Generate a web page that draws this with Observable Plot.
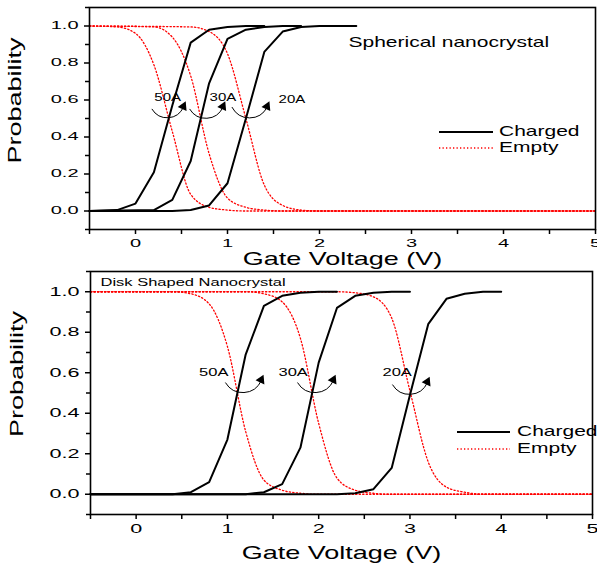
<!DOCTYPE html>
<html><head><meta charset="utf-8">
<script src="https://cdn.jsdelivr.net/npm/d3@7"></script>
<script src="https://cdn.jsdelivr.net/npm/@observablehq/plot@0.6"></script>
<style>
html,body{margin:0;padding:0;background:#fff;width:597px;height:569px;overflow:hidden;}
#top{position:absolute;left:0;top:0;}
#bot{position:absolute;left:0;top:269px;}
svg text{fill:#000;}
</style></head><body>
<div id="top"></div><div id="bot"></div>
<script>
// ---------- Spherical nanocrystal (top) ----------
const sphCharged50V = [-0.5,-0.2,0,0.2,0.4,0.6,0.8,1.0,1.2,1.4];
const sphCharged50P = [0,0.005,0.04,0.21,0.57,0.91,0.98,0.995,1,1];
const sphCharged30V = [-0.5,0.2,0.4,0.6,0.8,1.0,1.2,1.4,1.6,1.8];
const sphCharged30P = [0,0.005,0.06,0.27,0.69,0.93,0.98,0.995,1,1];
const sphCharged20V = [-0.5,0.4,0.6,0.8,1.0,1.2,1.4,1.6,1.8,2.0,2.2,2.4];
const sphCharged20P = [0,0,0.005,0.03,0.15,0.5,0.86,0.97,0.995,1,1,1];
const sphEmpty50V = [-0.5,-0.2,0,0.2,0.4,0.6,0.8,1.0,1.2,5];
const sphEmpty50P = [1,0.995,0.96,0.79,0.43,0.09,0.02,0.005,0,0];
const sphEmpty30V = [-0.5,0.2,0.4,0.6,0.8,1.0,1.2,1.4,1.6,5];
const sphEmpty30P = [1,0.995,0.94,0.73,0.31,0.07,0.02,0.005,0,0];
const sphEmpty20V = [-0.5,0.6,0.8,1.0,1.2,1.4,1.6,1.8,2.0,5];
const sphEmpty20P = [1,0.995,0.97,0.85,0.5,0.14,0.03,0.005,0,0];

// ---------- Disk shaped nanocrystal (bottom) ----------
const diskCharged50V = [-0.5,0.4,0.6,0.8,1.0,1.2,1.4,1.6,1.8,2.0,2.2];
const diskCharged50P = [0,0,0.01,0.06,0.27,0.69,0.93,0.98,0.995,1,1];
const diskCharged30V = [-0.5,1.2,1.4,1.6,1.8,2.0,2.2,2.4,2.6,2.8,3.0];
const diskCharged30P = [0,0,0.01,0.05,0.23,0.65,0.92,0.98,0.995,1,1];
const diskCharged20V = [-0.5,2.2,2.4,2.6,2.8,3.0,3.2,3.4,3.6,3.8,4.0];
const diskCharged20P = [0,0,0.005,0.025,0.13,0.49,0.84,0.965,0.99,1,1];
const diskEmpty50V = [-0.5,0.4,0.6,0.8,1.0,1.2,1.4,1.6,1.8,2.0,5];
const diskEmpty50P = [1,1,0.99,0.94,0.73,0.31,0.07,0.02,0.005,0,0];
const diskEmpty30V = [-0.5,1.2,1.4,1.6,1.8,2.0,2.2,2.4,2.6,2.8,5];
const diskEmpty30P = [1,1,0.99,0.95,0.77,0.35,0.08,0.02,0.005,0,0];
const diskEmpty20V = [-0.5,2.2,2.4,2.6,2.8,3.0,3.2,3.4,3.6,3.8,5];
const diskEmpty20P = [1,1,0.995,0.975,0.87,0.51,0.16,0.035,0.01,0,0];

// ---------- size annotations (label position, arrow start/end in data units) ----------
const sizeLabels = ["50A","30A","20A"];
const sphLabelV = [0.35,0.95,1.70];
const sphLabelP = [0.61,0.61,0.60];
const sphArcV1 = [0.18,0.59,1.05], sphArcV2 = [0.52,0.95,1.43];
const sphArcP1 = [0.55,0.55,0.56], sphArcP2 = [0.56,0.56,0.56];
const diskLabelV = [0.85,1.72,2.86];
const diskLabelP = [0.60,0.60,0.60];
const diskArcV1 = [0.98,1.77,2.81], diskArcV2 = [1.37,2.16,3.19];
const diskArcP1 = [0.55,0.55,0.54], diskArcP2 = [0.56,0.56,0.55];

// ---------- axes ----------
const xMajor = [0,1,2,3,4,5];
const xMinor = [-0.5,0.5,1.5,2.5,3.5,4.5];
const yMajor = [0,0.2,0.4,0.6,0.8,1.0];
const yMinor = [-0.1,0.1,0.3,0.5,0.7,0.9,1.1];
const xLabel = "Gate Voltage (V)";
const yLabel = "Probability";
const seriesNames = ["Charged","Empty"];

function rows(V,P,size){ return V.map((v,i)=>({v, p:P[i], size})); }

function panel(cfg){
  const charged = [].concat(...cfg.charged.map(([V,P],k)=>rows(V,P,sizeLabels[k])));
  const empty = [].concat(...cfg.empty.map(([V,P],k)=>rows(V,P,sizeLabels[k])));
  const labels = sizeLabels.map((t,i)=>({t, v:cfg.labV[i], p:cfg.labP[i]}));
  const arcs = sizeLabels.map((t,i)=>({x1:cfg.a1v[i], y1:cfg.a1p[i], x2:cfg.a2v[i], y2:cfg.a2p[i]}));
  const svg = Plot.plot({
    width: 597, height: cfg.height,
    marginTop: cfg.mt, marginLeft: cfg.ml, marginRight: cfg.mr, marginBottom: cfg.mb,
    x: {domain: [-0.5, 5]},
    y: {domain: [-0.1, 1.1]},
    style: {fontFamily: "'Liberation Sans', Arial, sans-serif", fontSize: cfg.tickFont + "px", background: "white", overflow: "visible", color: "black"},
    marks: [
      Plot.line(empty, {x:"v", y:"p", z:"size", stroke:"#ff0000", strokeWidth:1.3, strokeDasharray:"1.3,2.2", curve:"monotone-x"}),
      Plot.line(charged, {x:"v", y:"p", z:"size", stroke:"black", strokeWidth:2}),
      Plot.arrow(arcs, {x1:"x1", y1:"y1", x2:"x2", y2:"y2", bend: -62, stroke:"black", strokeWidth:1, headLength:0}),
      Plot.dot(arcs, {x:"x2", y:"y2", symbol:"triangle", r:3.6, fill:"black", stroke:null, rotate:25, dy:-1}),
      Plot.text(labels, {x:"v", y:"p", text:"t", fontSize: cfg.labFont}),
      Plot.frame({stroke:"black", strokeWidth:1.6}),
      Plot.axisY(yMajor, {tickSize:5, tickPadding:6, tickFormat: d3.format(".1f"), label:null, strokeWidth:1.5}),
      Plot.axisY(yMinor, {tickSize:4, tickFormat: ()=>"", label:null, strokeWidth:1.5}),
      Plot.axisX(xMajor, {tickSize:5, tickPadding:cfg.xpad, tickFormat: d3.format("d"), label:null, strokeWidth:1.5}),
      Plot.axisX(xMinor, {tickSize:5, tickFormat: ()=>"", label:null, strokeWidth:1.5}),
      Plot.text([xLabel], {frameAnchor:"bottom", dy: cfg.xlabDy, fontSize: 18, textAnchor:"middle", lineAnchor:"middle"}),
      Plot.text([yLabel], {frameAnchor:"left", dx: cfg.ylabDx, dy: cfg.ylabDy, rotate:-90, fontSize: 18, textAnchor:"middle", lineAnchor:"middle"}),
      Plot.text([cfg.title], {frameAnchor:"top-left", dx: cfg.titleDx, dy: cfg.titleDy, fontSize: cfg.titleFont, textAnchor:"start", lineAnchor:"middle"})
    ]
  });
  // legend inside the frame
  const L = d3.select(svg).append("g").attr("aria-label","legend");
  const lg = cfg.legend;
  L.append("line").attr("x1",lg.x1).attr("x2",lg.x2).attr("y1",lg.y1).attr("y2",lg.y1)
    .attr("stroke","black").attr("stroke-width",2);
  L.append("line").attr("x1",lg.x1).attr("x2",lg.x2).attr("y1",lg.y2).attr("y2",lg.y2)
    .attr("stroke","#ff0000").attr("stroke-width",1.3).attr("stroke-dasharray","1.3,2.2");
  [lg.y1, lg.y2].forEach((y,i)=>{
    L.append("text").attr("transform",`translate(${lg.tx},${y})`).attr("dy","0.32em")
      .attr("font-size",14).attr("text-anchor","start").text(seriesNames[i]);
  });
  // horizontally extended lettering, as in the reference
  svg.querySelectorAll("text").forEach(t=>{
    const g = t.parentNode;
    const lab = (g && g.getAttribute && g.getAttribute("aria-label")) || "";
    const s = lab.includes("tick label") ? cfg.tickScale : 1.5;
    t.setAttribute("transform", (t.getAttribute("transform")||"") + ` scale(${s},1)`);
  });
  return svg;
}

document.getElementById("top").appendChild(panel({
  height: 269, mt: 7, ml: 89, mr: 2, mb: 40,
  charged: [[sphCharged50V,sphCharged50P],[sphCharged30V,sphCharged30P],[sphCharged20V,sphCharged20P]],
  empty: [[sphEmpty50V,sphEmpty50P],[sphEmpty30V,sphEmpty30P],[sphEmpty20V,sphEmpty20P]],
  labV: sphLabelV, labP: sphLabelP, a1v: sphArcV1, a1p: sphArcP1, a2v: sphArcV2, a2p: sphArcP2,
  labFont: 10, tickFont: 10, tickScale: 2.0, xpad: 5,
  xlabDy: 30, ylabDx: -74, ylabDy: -18,
  title: "Spherical nanocrystal", titleFont: 14, titleDx: 259, titleDy: 35,
  legend: {x1:439, x2:493, y1:132, y2:148, tx:499}
}));

document.getElementById("bot").appendChild(panel({
  height: 300, mt: 2, ml: 90, mr: 5, mb: 55,
  charged: [[diskCharged50V,diskCharged50P],[diskCharged30V,diskCharged30P],[diskCharged20V,diskCharged20P]],
  empty: [[diskEmpty50V,diskEmpty50P],[diskEmpty30V,diskEmpty30P],[diskEmpty20V,diskEmpty20P]],
  labV: diskLabelV, labP: diskLabelP, a1v: diskArcV1, a1p: diskArcP1, a2v: diskArcV2, a2p: diskArcP2,
  labFont: 11, tickFont: 12, tickScale: 1.8, xpad: 5,
  xlabDy: 39, ylabDx: -73, ylabDy: -19,
  title: "Disk Shaped Nanocrystal", titleFont: 11, titleDx: 10, titleDy: 11,
  legend: {x1:457, x2:510, y1:163, y2:180, tx:517}
}));
</script>
</body></html>
